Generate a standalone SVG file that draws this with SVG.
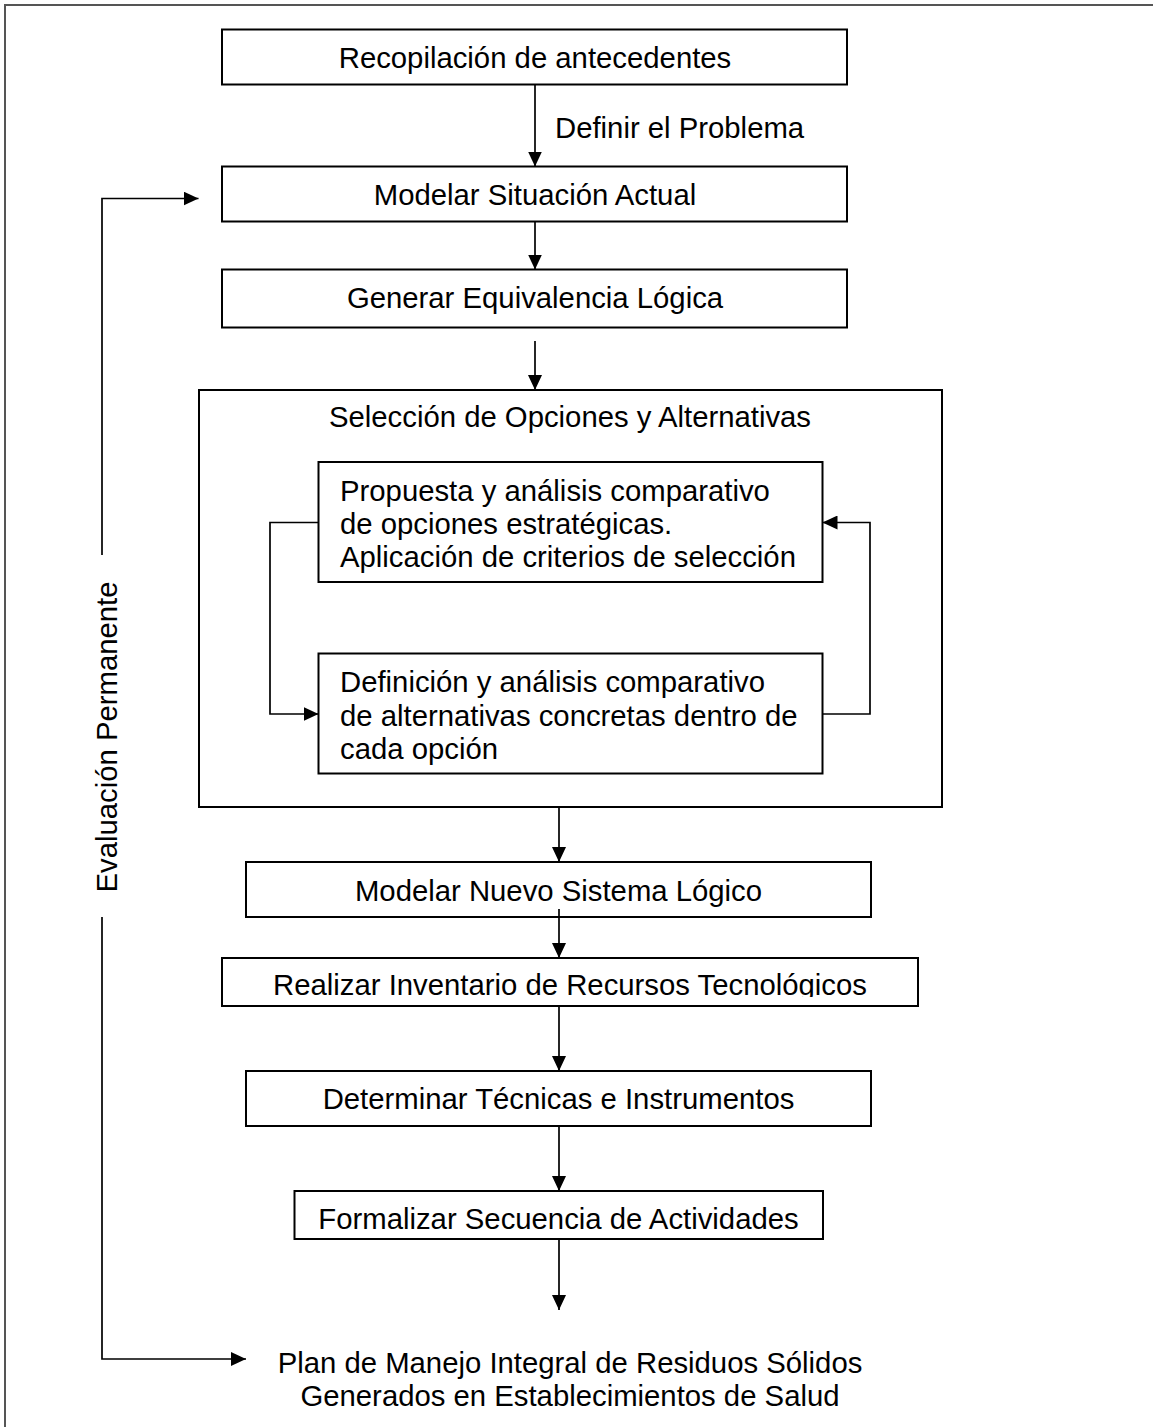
<svg xmlns="http://www.w3.org/2000/svg" width="1153" height="1427" viewBox="0 0 1153 1427">
<style>
.box{fill:#fff;stroke:#000;stroke-width:2}
.t{font-family:"Liberation Sans",Arial,sans-serif;font-size:29.3px;fill:#000}
.c{text-anchor:middle}
.ln{fill:none;stroke:#000;stroke-width:1.7}
</style>
<defs>
<marker id="ah" viewBox="0 0 15 14" markerWidth="15" markerHeight="14" refX="15" refY="7" orient="auto" markerUnits="userSpaceOnUse">
<path d="M0,0 L15,7 L0,14 z" fill="#000"/>
</marker>
<clipPath id="clip5"><rect x="222" y="957" width="696" height="40"/></clipPath>
</defs>
<rect x="5" y="5" width="1200" height="1480" fill="#fff" stroke="#555" stroke-width="2"/>

<g id="n1"><rect class="box" x="222" y="29.5" width="625" height="55"/><text class="t c" x="535" y="68">Recopilación de antecedentes</text></g>
<g id="n2"><rect class="box" x="222" y="166.5" width="625" height="55"/><text class="t c" x="535" y="205">Modelar Situación Actual</text></g>
<g id="n3"><rect class="box" x="222" y="269.5" width="625" height="58"/><text class="t c" x="535" y="308">Generar Equivalencia Lógica</text></g>
<g id="n4"><rect class="box" x="199" y="390" width="743" height="417"/><text class="t c" x="570" y="427">Selección de Opciones y Alternativas</text></g>
<g id="n5"><rect class="box" x="318.5" y="462" width="504" height="120"/>
<text class="t" x="340" y="501">Propuesta y análisis comparativo</text>
<text class="t" x="340" y="534">de opciones estratégicas.</text>
<text class="t" x="340" y="567">Aplicación de criterios de selección</text></g>
<g id="n6"><rect class="box" x="318.5" y="653.5" width="504" height="120"/>
<text class="t" x="340" y="692">Definición y análisis comparativo</text>
<text class="t" x="340" y="725.5">de alternativas concretas dentro de</text>
<text class="t" x="340" y="759">cada opción</text></g>
<g id="n7"><rect class="box" x="246" y="862" width="625" height="55"/><text class="t c" x="558.5" y="900.5">Modelar Nuevo Sistema Lógico</text></g>
<g id="n8"><rect class="box" x="222" y="958" width="696" height="48"/><text class="t c" x="570" y="995" clip-path="url(#clip5)">Realizar Inventario de Recursos Tecnológicos</text></g>
<g id="n9"><rect class="box" x="246" y="1071" width="625" height="55"/><text class="t c" x="558.5" y="1109">Determinar Técnicas e Instrumentos</text></g>
<g id="n10"><rect class="box" x="294.5" y="1191" width="528.5" height="48"/><text class="t c" x="558.5" y="1229">Formalizar Secuencia de Actividades</text></g>
<g id="n11"><text class="t c" x="570" y="1373">Plan de Manejo Integral de Residuos Sólidos</text><text class="t c" x="570" y="1406">Generados en Establecimientos de Salud</text></g>

<g id="connectors">
<line class="ln" x1="535" y1="84.5" x2="535" y2="166.5" marker-end="url(#ah)"/>
<text class="t" x="555" y="138">Definir el Problema</text>
<line class="ln" x1="535" y1="221.5" x2="535" y2="269.5" marker-end="url(#ah)"/>
<line class="ln" x1="535" y1="341" x2="535" y2="390" marker-end="url(#ah)"/>
<polyline class="ln" points="318.5,522.5 270,522.5 270,714 318.5,714" marker-end="url(#ah)"/>
<polyline class="ln" points="822.5,714 870,714 870,522.5 822.5,522.5" marker-end="url(#ah)"/>
<line class="ln" x1="559" y1="807" x2="559" y2="862" marker-end="url(#ah)"/>
<line class="ln" x1="559" y1="909" x2="559" y2="958" marker-end="url(#ah)"/>
<line class="ln" x1="559" y1="1006" x2="559" y2="1071" marker-end="url(#ah)"/>
<line class="ln" x1="559" y1="1126" x2="559" y2="1191" marker-end="url(#ah)"/>
<line class="ln" x1="559" y1="1239" x2="559" y2="1310" marker-end="url(#ah)"/>
<polyline class="ln" points="102,555 102,198.5 198.5,198.5" marker-end="url(#ah)"/>
<polyline class="ln" points="102,917 102,1359 246,1359" marker-end="url(#ah)"/>
<text class="t c" transform="translate(117,737) rotate(-90)">Evaluación Permanente</text>
</g>
</svg>
